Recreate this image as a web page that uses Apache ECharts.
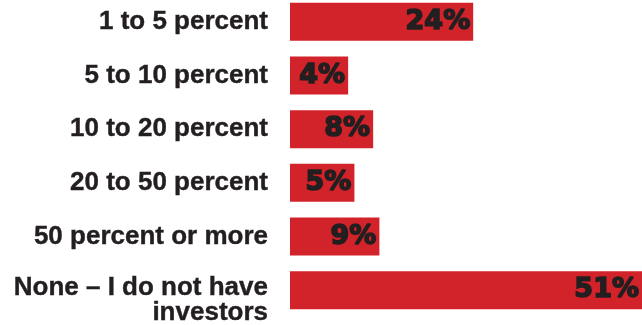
<!DOCTYPE html>
<html>
<head>
<meta charset="utf-8">
<script src="https://cdn.jsdelivr.net/npm/echarts@6/dist/echarts.min.js"></script>
<style>
  html, body { margin: 0; padding: 0; background: #ffffff; }
  #chart { width: 642px; height: 325px; }
</style>
</head>
<body>
<div id="chart"></div>
<script>
// Share of respondents by investor ownership stake
const categories = [
  '1 to 5 percent',
  '5 to 10 percent',
  '10 to 20 percent',
  '20 to 50 percent',
  '50 percent or more',
  'None – I do not have\ninvestors'
];
const shares = [24, 4, 8, 5, 9, 51];

const RED = '#d2232a';
const INK = '#231f20';

const catFont = {
  color: INK,
  fontFamily: 'Liberation Sans',
  fontWeight: 'bold',
  fontSize: 26,
  lineHeight: 25,
  align: 'right',
  textBorderColor: INK,
  textBorderWidth: 0.4
};

const chart = echarts.init(document.getElementById('chart'), null, { renderer: 'canvas' });

chart.setOption({
  animation: false,
  backgroundColor: '#ffffff',
  grid: { left: 290, right: 0, top: -5, bottom: 8, containLabel: false, outerBoundsMode: 'none' },
  xAxis: {
    type: 'value',
    min: -5.3,
    max: 51,
    startValue: -5.3,
    show: false
  },
  yAxis: {
    type: 'category',
    inverse: true,
    data: categories,
    axisLine: { show: false },
    axisTick: { show: false },
    axisLabel: Object.assign({
      interval: 0,
      hideOverlap: false,
      margin: 22,
      // multi-line labels hang from their first line, with a short spacer above
      formatter: (v) => v.indexOf('\n') < 0 ? v
        : '{s| }\n' + v.split('\n').map(l => '{t|' + l + '}').join('\n'),
      rich: {
        s: { fontSize: 10, lineHeight: 20 },
        t: Object.assign({}, catFont)
      }
    }, catFont)
  },
  series: [{
    type: 'bar',
    data: shares,
    barWidth: 38,
    itemStyle: { color: RED },
    label: {
      show: true,
      position: 'insideRight',
      distance: 3,
      formatter: '{c}%',
      color: INK,
      fontFamily: 'DejaVu Sans',
      fontWeight: 'bold',
      fontSize: 27,
      textBorderColor: INK,
      textBorderWidth: 1.6
    }
  }]
});
</script>
</body>
</html>
